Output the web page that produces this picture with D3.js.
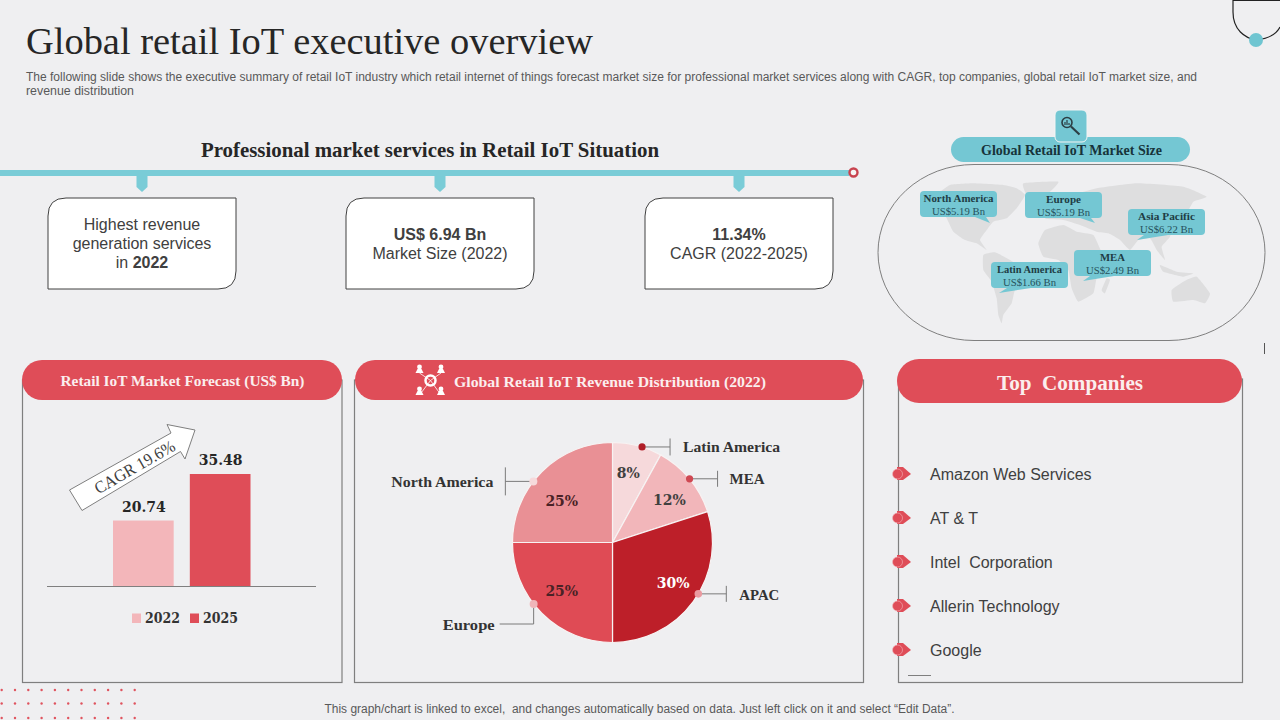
<!DOCTYPE html>
<html>
<head>
<meta charset="utf-8">
<title>Global retail IoT executive overview</title>
<script src="https://cdn.jsdelivr.net/npm/d3@7/dist/d3.min.js"></script>
<style>
  html, body { margin: 0; padding: 0; background: #efeff1; }
  svg { display: block; }
</style>
</head>
<body>
<svg id="chart" width="1280" height="720"></svg>
<script>
// forecast bars
const forecastYears = ['2022', '2025'];
const forecastValues = [20.74, 35.48];

// revenue pie, clockwise from 12 o'clock
const pieRegions = ['Latin America', 'MEA', 'APAC', 'Europe', 'North America'];
const pieShares = [8, 12, 30, 25, 25];

// map callouts
const mapRegions = ['North America', 'Europe', 'Asia Pacific', 'MEA', 'Latin America'];
const mapValues = ['US$5.19 Bn', 'US$5.19 Bn', 'US$6.22 Bn', 'US$2.49 Bn', 'US$1.66 Bn'];

const companies = ['Amazon Web Services', 'AT & T', 'Intel  Corporation', 'Allerin Technology', 'Google'];

const RED = '#df4d58', TEAL = '#7accd7', SERIF = '"Liberation Serif", serif', SANS = '"Liberation Sans", sans-serif';
const svg = d3.select('#chart');

// text helper, w stretches the string to the width it has in the slide
function label(parent, str, x, y, o) {
  o = o || {};
  let t = parent.append('text')
    .attr('x', x).attr('y', y)
    .attr('font-family', o.family || SANS)
    .attr('font-size', o.size || 12)
    .attr('font-weight', o.weight || 'normal')
    .attr('fill', o.fill || '#404040')
    .attr('text-anchor', o.anchor || 'start')
    .style('white-space', 'pre')
    .text(str);
  if (o.w) t.attr('textLength', o.w).attr('lengthAdjust', 'spacingAndGlyphs');
  return t;
}

// ---- header
label(svg, 'Global retail IoT executive overview', 26, 54, {family: SERIF, size: 38, fill: '#262626', w: 567});
label(svg, 'The following slide shows the executive summary of retail IoT industry which retail internet of things forecast market size for professional market services along with CAGR, top companies, global retail IoT market size, and', 26, 81, {size: 12, fill: '#595959', w: 1171});
label(svg, 'revenue distribution', 26, 95, {size: 12, fill: '#595959', w: 108});

// corner ornament
svg.append('path').attr('d', 'M1280,0.5 H1233 V12 C1233,30 1245,38 1256,40 C1266,39 1276,35 1280,27')
  .attr('fill', 'none').attr('stroke', '#222').attr('stroke-width', 1.2);
svg.append('circle').attr('cx', 1256).attr('cy', 40).attr('r', 7).attr('fill', '#6fc5d1');
svg.append('line').attr('x1', 1264.5).attr('x2', 1264.5).attr('y1', 343).attr('y2', 354).attr('stroke', '#555');

// ---- timeline row
label(svg, 'Professional market services in Retail IoT Situation', 430, 157, {family: SERIF, size: 21, weight: 'bold', fill: '#262626', anchor: 'middle', w: 458});
svg.append('rect').attr('x', 0).attr('y', 170).attr('width', 849).attr('height', 6).attr('fill', TEAL);
svg.append('circle').attr('cx', 853.5).attr('cy', 172.5).attr('r', 4).attr('fill', '#f5f5f5').attr('stroke', '#c8434f').attr('stroke-width', 2.4);

const cards = [
  {x: 48, lines: [[['Highest revenue', 'normal']], [['generation services', 'normal']], [['in ', 'normal'], ['2022', 'bold']]]},
  {x: 346, lines: [[['US$ 6.94 Bn', 'bold']], [['Market Size (2022)', 'normal']]]},
  {x: 645, lines: [[['11.34%', 'bold']], [['CAGR (2022-2025)', 'normal']]]}
];
cards.forEach(c => {
  let w = 188, h = 91, r = 18, top = 198;
  let mid = c.x + w / 2;
  svg.append('path')
    .attr('d', `M${mid - 5.5},176 h11 v11 l-5.5,5 l-5.5,-5 z`)
    .attr('fill', TEAL);
  svg.append('path')
    .attr('d', `M${c.x},${top + h} V${top + r} Q${c.x},${top} ${c.x + r},${top} H${c.x + w} V${top + h - r} Q${c.x + w},${top + h} ${c.x + w - r},${top + h} Z`)
    .attr('fill', '#fff').attr('stroke', '#404040').attr('stroke-width', 1);
  let y0 = top + h / 2 - (c.lines.length - 1) * 9.5 + 5.5;
  c.lines.forEach((line, i) => {
    let t = label(svg, '', mid, y0 + i * 19, {size: 16, anchor: 'middle'});
    line.forEach(p => t.append('tspan').attr('font-weight', p[1]).text(p[0]));
  });
});

// ---- map panel
svg.append('rect').attr('x', 878).attr('y', 164.5).attr('width', 387).attr('height', 176)
  .attr('rx', 96).attr('ry', 88).attr('fill', 'none').attr('stroke', '#7f7f7f').attr('stroke-width', 1);

// rough continents, units are a 870x465 map sheet
const mapX = d3.scaleLinear().domain([0, 870]).range([930, 1220]);
const mapY = d3.scaleLinear().domain([0, 465]).range([175, 330]);
const continents = [
  [[20,60],[60,30],[130,25],[220,30],[260,40],[285,60],[260,100],[230,130],[190,140],[170,165],[150,195],[170,225],[140,205],[105,195],[70,170],[50,130],[30,90]],
  [[280,25],[385,20],[360,50],[320,80],[290,60]],
  [[160,240],[195,232],[240,255],[285,285],[290,310],[255,345],[245,385],[220,420],[215,445],[205,420],[200,370],[185,320],[160,285]],
  [[345,165],[400,150],[440,170],[490,180],[515,230],[545,235],[525,285],[500,310],[490,355],[445,380],[425,340],[415,285],[385,255],[340,245],[325,205]],
  [[345,130],[355,80],[430,60],[500,40],[620,25],[760,35],[830,65],[790,80],[770,115],[745,130],[720,185],[695,215],[705,255],[680,225],[660,190],[625,195],[600,225],[570,195],[535,175],[500,170],[450,150],[400,135]],
  [[530,310],[540,315],[525,355],[515,345]],
  [[725,345],[760,320],[800,305],[840,355],[825,385],[790,375],[730,380]],
  [[690,270],[740,290],[790,295],[760,305],[700,290]]
];
const mapLine = d3.line().x(d => mapX(d[0])).y(d => mapY(d[1])).curve(d3.curveCardinalClosed.tension(0.6));
svg.append('g').selectAll('path').data(continents).join('path')
  .attr('d', mapLine).attr('fill', '#dededf');

// callouts: box corner and tail tip for each region
const calloutBoxes = [[920, 191], [1025, 192], [1128, 209], [1074, 250], [991, 262]];
const calloutTails = [[990, 223], [1095, 223], [1137, 240], [1083, 281], [999, 293]];
const calloutTailBase = [[55, 66], [55, 66], [16, 40], [16, 40], [16, 40]];
const calloutWidths = [70, 35, 57, 25, 65];
mapRegions.forEach((name, i) => {
  let [x, y] = calloutBoxes[i], [tx, ty] = calloutTails[i], [a, b] = calloutTailBase[i];
  svg.append('path').attr('d', `M${x + a},${y + 26} L${tx},${ty} L${x + b},${y + 26} Z`).attr('fill', '#74c7d3');
  svg.append('rect').attr('x', x).attr('y', y).attr('width', 77).attr('height', 26).attr('rx', 4).attr('fill', '#74c7d3');
  label(svg, name, x + 38.5, y + 11, {family: SERIF, size: 11, weight: 'bold', fill: '#1f3d45', anchor: 'middle', w: calloutWidths[i]});
  label(svg, mapValues[i], x + 38.5, y + 23.5, {family: SERIF, size: 11, fill: '#26525c', anchor: 'middle', w: 53});
});

svg.append('rect').attr('x', 951).attr('y', 137).attr('width', 239).attr('height', 25).attr('rx', 12.5).attr('fill', '#74c7d3');
svg.append('rect').attr('x', 1055).attr('y', 110).attr('width', 32).attr('height', 32).attr('rx', 5).attr('fill', '#74c7d3').attr('stroke', '#f4f4f4').attr('stroke-width', 1);
label(svg, 'Global Retail IoT Market Size', 1071.5, 155, {family: SERIF, size: 15, weight: 'bold', fill: '#17333a', anchor: 'middle', w: 181});
// magnifier
svg.append('circle').attr('cx', 1067).attr('cy', 122.5).attr('r', 5).attr('fill', 'none').attr('stroke', '#2c3e44').attr('stroke-width', 1.6);
svg.append('line').attr('x1', 1071).attr('y1', 126.5).attr('x2', 1079.5).attr('y2', 134.5).attr('stroke', '#2c3e44').attr('stroke-width', 2.2);
svg.append('path').attr('d', 'M1065,125 v-3 M1067,125 v-5 M1069,125 v-2').attr('stroke', '#2c3e44').attr('stroke-width', 1.2);

// ---- panels
function panel(x, w, top, hx, hw, hh) {
  svg.append('rect').attr('x', x).attr('y', top).attr('width', w).attr('height', 682.5 - top)
    .attr('fill', 'none').attr('stroke', '#7f7f7f').attr('stroke-width', 1.2);
  svg.append('rect').attr('x', hx).attr('y', top - 20).attr('width', hw).attr('height', hh).attr('rx', hh / 2).attr('fill', RED);
}
panel(22.5, 319.5, 380, 22, 320, 40);
panel(354.5, 509, 380, 355, 508, 40);
panel(898.5, 344, 379, 897, 345, 44);
label(svg, 'Retail IoT Market Forecast (US$ Bn)', 182.5, 386, {family: SERIF, size: 15, weight: 'bold', fill: '#fbeeee', anchor: 'middle', w: 244});
label(svg, 'Global Retail IoT Revenue Distribution (2022)', 610, 387, {family: SERIF, size: 15, weight: 'bold', fill: '#fbeeee', anchor: 'middle', w: 312});
label(svg, 'Top  Companies', 1070, 390, {family: SERIF, size: 21, weight: 'bold', fill: '#fbeeee', anchor: 'middle', w: 146});

// network icon on the pie header
const icon = svg.append('g').attr('fill', '#fff').attr('stroke', '#fff');
icon.append('circle').attr('cx', 430.5).attr('cy', 380.5).attr('r', 5).attr('fill', 'none').attr('stroke-width', 2.5);
[[419.5, 369], [441, 369], [419.5, 391], [441, 391]].forEach(p => {
  icon.append('circle').attr('cx', p[0]).attr('cy', p[1] - 2).attr('r', 2.4).attr('stroke', 'none');
  icon.append('path').attr('d', `M${p[0] - 4},${p[1] + 4} L${p[0] - 2},${p[1]} H${p[0] + 2} L${p[0] + 4},${p[1] + 4} Z`).attr('stroke', 'none');
  icon.append('line').attr('x1', p[0]).attr('y1', p[1] + 4).attr('x2', 430.5).attr('y2', 380.5).attr('stroke-width', 0.8);
});

// ---- forecast bars
const barColor = d3.scaleOrdinal().domain(forecastYears).range(['#f3b6ba', '#df4d58']);
const xBar = d3.scaleBand().domain(forecastYears).range([113, 250.5]).paddingInner(0.21);
const yBar = d3.scaleLinear().domain([0, 35.48]).range([586, 474]);
const barG = svg.append('g');
barG.selectAll('rect').data(forecastYears).join('rect')
  .attr('x', d => xBar(d)).attr('width', xBar.bandwidth())
  .attr('y', (d, i) => yBar(forecastValues[i]))
  .attr('height', (d, i) => yBar(0) - yBar(forecastValues[i]))
  .attr('fill', d => barColor(d));
barG.selectAll('text').data(forecastYears).join('text')
  .attr('x', d => xBar(d) + xBar.bandwidth() / 2 + 0.5)
  .attr('y', (d, i) => yBar(forecastValues[i]) - 9)
  .attr('text-anchor', 'middle')
  .attr('font-family', '"DejaVu Serif", serif').attr('font-size', 14).attr('font-weight', 'bold').attr('fill', '#262626')
  .text((d, i) => forecastValues[i].toFixed(2));
svg.append('line').attr('x1', 47).attr('x2', 316).attr('y1', 586.5).attr('y2', 586.5).attr('stroke', '#7f7f7f').attr('stroke-width', 1);

// legend
const legendX = [132, 190];
forecastYears.forEach((yr, i) => {
  svg.append('rect').attr('x', legendX[i]).attr('y', 613.5).attr('width', 9).attr('height', 9.5).attr('fill', barColor(yr));
  label(svg, yr, legendX[i] + 13, 623, {family: '"DejaVu Serif", serif', size: 14, weight: 'bold', fill: '#333', w: 35});
});

// CAGR arrow
svg.append('path')
  .attr('d', 'M82,510.5 L69.5,490 L171,433 L167,424.5 L195,430 L185,459 L180.5,451.5 Z')
  .attr('fill', '#fff').attr('stroke', '#7f7f7f').attr('stroke-width', 1);
label(svg, 'CAGR 19.6%', 0, 0, {family: SERIF, size: 17, fill: '#404040', anchor: 'middle', w: 90})
  .attr('transform', 'translate(137.5,472) rotate(-30)');

// ---- revenue pie
const pieCx = 612.5, pieCy = 542.5, pieR = 100;
const pieColor = d3.scaleOrdinal().domain(pieRegions).range(['#f6d9db', '#f2b6ba', '#bd1f29', '#df4b55', '#e99095']);
const pie = d3.pie().value(d => d).sort(null);
const arc = d3.arc().innerRadius(0).outerRadius(pieR);
const pieG = svg.append('g').attr('transform', `translate(${pieCx},${pieCy})`);
const slices = pie(pieShares);
pieG.selectAll('path').data(slices).join('path')
  .attr('d', arc)
  .attr('fill', (d, i) => pieColor(pieRegions[i]))
  .attr('stroke', '#f7f3f3').attr('stroke-width', 1.2);

// percent labels sit at the centroid, nudged like in the slide
const pctNudge = [[-1, -4], [5, 1], [6, 1], [-3, 1], [-3, 6]];
const pctFill = ['#404040', '#404040', '#fff', '#4a2226', '#4a2226'];
pieG.selectAll('text').data(slices).join('text')
  .attr('transform', (d, i) => {
    let c = arc.centroid(d);
    return `translate(${c[0] * 1.35 + pctNudge[i][0]},${c[1] * 1.35 + pctNudge[i][1]})`;
  })
  .attr('text-anchor', 'middle').attr('dy', '0.35em')
  .attr('font-family', '"DejaVu Serif", serif').attr('font-size', 14).attr('font-weight', 'bold')
  .attr('fill', (d, i) => pctFill[i])
  .text(d => d.data + '%');

// callout leaders, angles in radians clockwise from north
const leaderAngles = [0.3, 0.88, 2.11, 4.05, 5.37];
const leaderDots = ['#b01e28', '#cf4852', '#ea9aa0', '#f0b5b9', '#f6dadc'];
const dotRadius = [3.6, 3.6, 3.8, 4, 4];
const leaderEnds = [[28, 8.5, 0], [28, 8, 0], [28, 8, 0], [-34, 20, 1], [-28, 14, 0]];
const nameX = [41, 40, 41, -39, -40], nameY = [5, 5, 6, 26, 6], nameW = [97, 35, 40, 52, 102];
pieRegions.forEach((name, i) => {
  let [dx, dy] = d3.pointRadial(leaderAngles[i], pieR);
  let [lx, ly, bent] = leaderEnds[i];
  let g = pieG.append('g').attr('transform', `translate(${dx},${dy})`);
  if (bent) {
    g.append('path').attr('d', `M0,0 V${ly} H${lx}`).attr('fill', 'none').attr('stroke', '#7a7a7a');
  } else {
    g.append('line').attr('x2', lx).attr('stroke', '#7a7a7a');
    g.append('line').attr('x1', lx).attr('x2', lx).attr('y1', -ly).attr('y2', ly).attr('stroke', '#7a7a7a');
  }
  g.append('circle').attr('r', dotRadius[i]).attr('fill', leaderDots[i]);
  label(g, name, nameX[i], nameY[i], {family: SERIF, size: 15.5, weight: 'bold', fill: '#333', anchor: nameX[i] < 0 ? 'end' : 'start', w: nameW[i]});
});

// ---- top companies
const yCompany = d3.scalePoint().domain(companies).range([474, 650]);
companies.forEach(name => {
  let y = yCompany(name);
  svg.append('path').attr('d', `M897,${y - 7} L903,${y - 7} L911,${y} L903,${y + 6} L897,${y + 6} Z`).attr('fill', RED);
  svg.append('circle').attr('cx', 897.5).attr('cy', y).attr('r', 5).attr('fill', RED).attr('stroke', '#f3b6ba').attr('stroke-width', 0.6);
  label(svg, name, 930, y + 6, {size: 16, fill: '#404040'});
});
svg.append('line').attr('x1', 908).attr('x2', 931).attr('y1', 675.5).attr('y2', 675.5).attr('stroke', '#7f7f7f');

// ---- footer
label(svg, 'This graph/chart is linked to excel,  and changes automatically based on data. Just left click on it and select \u201cEdit Data\u201d.', 639.5, 713, {size: 12, fill: '#595959', anchor: 'middle', w: 630});

// decorative dot grid
const dotCols = d3.range(11), dotRows = [690, 703.5, 718];
svg.append('g').selectAll('circle')
  .data(d3.cross(dotCols, dotRows)).join('circle')
  .attr('cx', d => 1.7 + d[0] * 13.3).attr('cy', d => d[1]).attr('r', 1.2).attr('fill', '#e0545f');
</script>
</body>
</html>
